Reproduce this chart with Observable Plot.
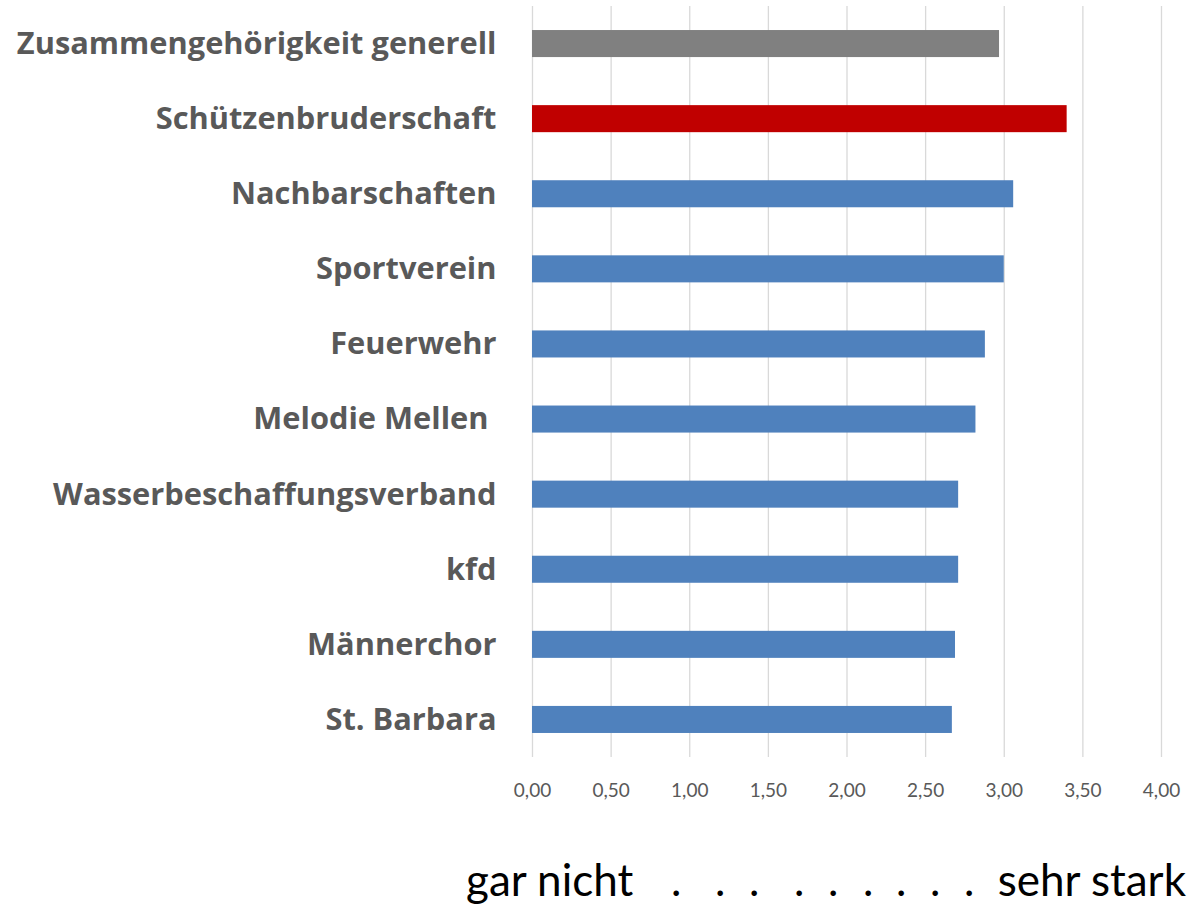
<!DOCTYPE html>
<html>
<head>
<meta charset="utf-8">
<script src="https://cdn.jsdelivr.net/npm/d3@7"></script>
<script src="https://cdn.jsdelivr.net/npm/@observablehq/plot@0.6"></script>
<style>
  html, body { margin: 0; padding: 0; background: #fff; }
  #wrap { position: relative; width: 1192px; height: 906px; }
  svg text { white-space: pre; }
  .cap { position: absolute; top: 857px; font-family: Lato, sans-serif; font-size: 44px; line-height: 1; color: #000; white-space: pre; }
</style>
</head>
<body>
<div id="wrap"><div id="chart"></div><div id="caption"></div></div>
<script>
const categories = ["Zusammengehörigkeit generell","Schützenbruderschaft","Nachbarschaften","Sportverein","Feuerwehr","Melodie Mellen ","Wasserbeschaffungsverband","kfd","Männerchor","St. Barbara"];
const values = [2.97, 3.40, 3.06, 3.00, 2.88, 2.82, 2.71, 2.71, 2.69, 2.67];
const barColors = ["#808080","#C00000","#4F81BD","#4F81BD","#4F81BD","#4F81BD","#4F81BD","#4F81BD","#4F81BD","#4F81BD"];
const xTicks = [0, 0.5, 1, 1.5, 2, 2.5, 3, 3.5, 4];
const captionLeft = "gar nicht";
const captionRight = "sehr stark";
const captionDots = 9;

const data = categories.map((c, i) => ({category: c, value: values[i], color: barColors[i]}));
const fmt = d => d.toFixed(2).replace(".", ",");

const chart = Plot.plot({
  width: 1192,
  height: 820,
  marginLeft: 532,
  marginRight: 31,
  marginTop: 6,
  marginBottom: 63,
  style: {fontFamily: "Lato, sans-serif", background: "#fff"},
  x: {domain: [0, 4]},
  y: {domain: categories, paddingInner: 0.64, paddingOuter: 0.32, round: false},
  color: {type: "identity"},
  marks: [
    Plot.gridX(xTicks, {stroke: "#d9d9d9", strokeOpacity: 1, strokeWidth: 1.3}),
    Plot.barX(data, {x: "value", y: "category", fill: "color"}),
    Plot.axisX(xTicks, {tickSize: 0, tickPadding: 26, fontSize: 19, fill: "#595959", tickFormat: fmt, label: null}),
    Plot.axisY({tickSize: 0, tickPadding: 36, fontSize: 30.8, fontWeight: "bold", fontFamily: "'Open Sans', sans-serif", fill: "#595959", label: null})
  ]
});
document.getElementById("chart").appendChild(chart);

// caption: "gar nicht . . . . . . . . . sehr stark"
const cap = document.getElementById("caption");
const left = document.createElement("div");
left.className = "cap"; left.style.left = "466px"; left.textContent = captionLeft;
cap.appendChild(left);
const right = document.createElement("div");
right.className = "cap"; right.style.right = "6px"; right.textContent = captionRight;
cap.appendChild(right);
const dotCenters = [676, 720, 754, 799, 833, 868, 901, 935, 969].slice(0, captionDots);
for (const cx of dotCenters) {
  const d = document.createElement("div");
  d.className = "cap"; d.style.left = (cx - 5) + "px"; d.textContent = ".";
  cap.appendChild(d);
}
</script>
</body>
</html>
